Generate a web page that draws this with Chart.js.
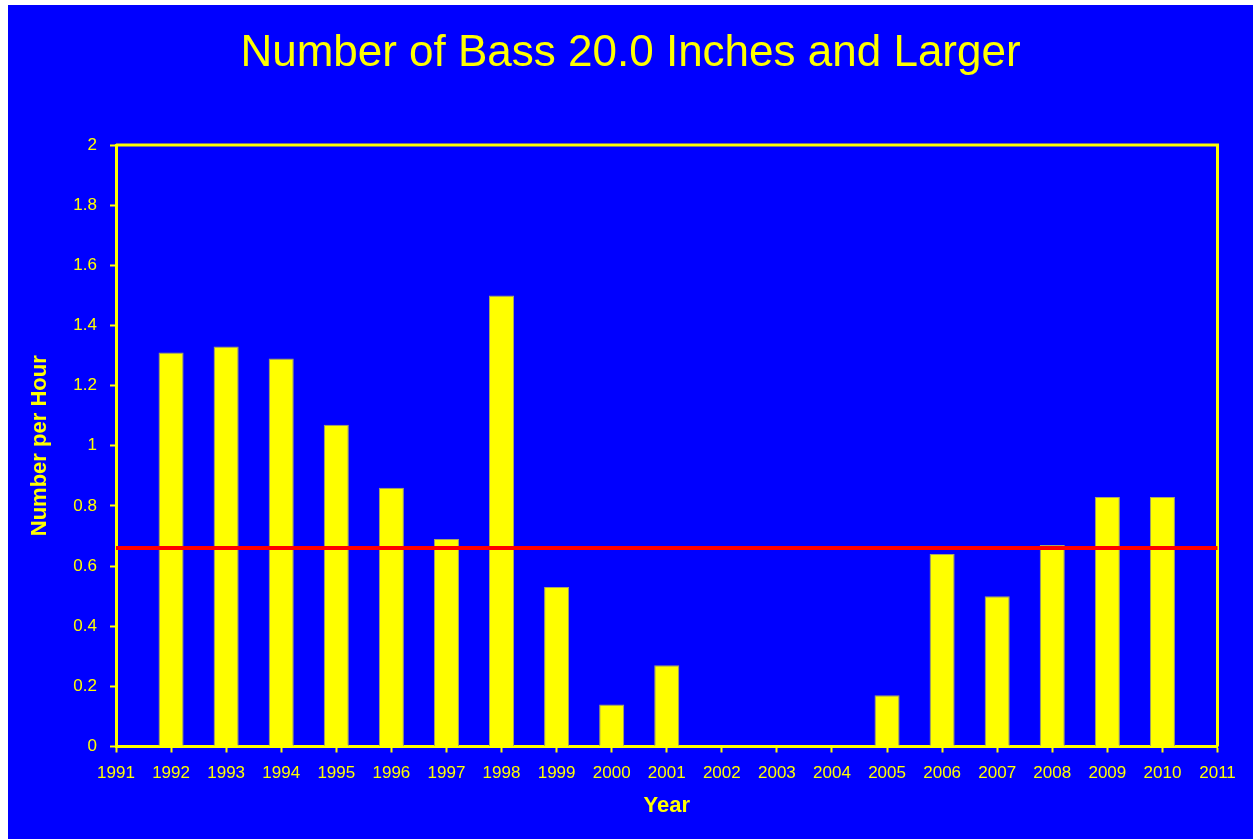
<!DOCTYPE html>
<html>
<head>
<meta charset="utf-8">
<script src="https://cdn.jsdelivr.net/npm/chart.js@4/dist/chart.umd.min.js"></script>
<style>
  html, body { margin: 0; padding: 0; background: #ffffff; }
  #wrap { position: absolute; left: 8px; top: 5px; width: 1245px; height: 834px; background: #0000ff; }
  canvas { display: block; }
</style>
</head>
<body>
<div id="wrap"><canvas id="c" width="1245" height="834"></canvas></div>
<script>
const titleText = 'Number of Bass 20.0 Inches and Larger';
const yAxisTitle = 'Number per Hour';
const xAxisTitle = 'Year';
const years = ['1991','1992','1993','1994','1995','1996','1997','1998','1999','2000','2001',
               '2002','2003','2004','2005','2006','2007','2008','2009','2010','2011'];
const bassPerHour = [null, 1.31, 1.33, 1.29, 1.07, 0.86, 0.69, 1.50, 0.53, 0.14, 0.27,
                     0, 0, 0, 0.17, 0.64, 0.50, 0.67, 0.83, 0.83, null];
const averageValue = 0.66;
const yTickLabels = ['0','0.2','0.4','0.6','0.8','1','1.2','1.4','1.6','1.8','2'];

const averageLine = years.map(() => averageValue);

const YELLOW = '#ffff00';
const FONT = '"Liberation Sans", Arial, sans-serif';

const framePlugin = {
  id: 'frame',
  beforeDatasetsDraw(chart) {
    const a = chart.chartArea, ctx = chart.ctx;
    ctx.save();
    ctx.strokeStyle = YELLOW;
    ctx.lineWidth = 3;
    ctx.beginPath();
    ctx.moveTo(a.left, a.top);
    ctx.lineTo(a.right, a.top);
    ctx.lineTo(a.right, a.bottom);
    ctx.stroke();
    ctx.restore();
  }
};

new Chart(document.getElementById('c'), {
  type: 'bar',
  data: {
    labels: years,
    datasets: [
      {
        type: 'line',
        label: 'Average',
        data: averageLine,
        borderColor: '#ff0000',
        borderWidth: 4,
        pointRadius: 0,
        fill: false,
        order: 0
      },
      {
        type: 'bar',
        label: 'Number per Hour',
        data: bassPerHour,
        backgroundColor: YELLOW,
        borderColor: '#a4a468',
        borderWidth: 1,
        borderSkipped: 'bottom',
        categoryPercentage: 1,
        barPercentage: 0.455,
        order: 1
      }
    ]
  },
  options: {
    responsive: false,
    animation: false,
    events: [],
    layout: { padding: 0 },
    plugins: {
      legend: { display: false },
      tooltip: { enabled: false },
      title: {
        display: true,
        text: titleText,
        color: YELLOW,
        font: { family: FONT, size: 44, weight: 'normal', lineHeight: 1.2 },
        padding: { top: 22.6, bottom: 64.6 }
      }
    },
    scales: {
      x: {
        type: 'category',
        offset: false,
        afterFit(scale) { scale.height = 92.5; },
        grid: { offset: false, drawOnChartArea: false, drawTicks: true, tickLength: 6, tickWidth: 2, color: YELLOW, tickColor: YELLOW },
        border: { display: true, color: YELLOW, width: 3 },
        ticks: { color: YELLOW, font: { family: FONT, size: 17 }, padding: 11, maxRotation: 0, autoSkip: false },
        title: {
          display: true, text: xAxisTitle, color: YELLOW,
          font: { family: FONT, size: 22, weight: 'bold', lineHeight: 1.2 },
          padding: { top: 0, bottom: 19.8 }
        }
      },
      y: {
        min: 0, max: 2,
        afterFit(scale) { scale.width = 108; },
        grid: { drawOnChartArea: false, drawTicks: true, tickLength: 6, tickWidth: 2, color: YELLOW, tickColor: YELLOW },
        border: { display: true, color: YELLOW, width: 3 },
        ticks: {
          stepSize: 0.2, color: YELLOW, font: { family: FONT, size: 17 }, padding: 13,
          callback: (v, i) => yTickLabels[i]
        },
        title: {
          display: true, text: yAxisTitle, color: YELLOW,
          font: { family: FONT, size: 22, weight: 'bold', lineHeight: 1.2 },
          padding: { top: 18.3, bottom: 0 }
        }
      },
      spacer: {
        type: 'linear',
        position: 'right',
        display: true,
        afterFit(scale) { scale.width = 35.5; },
        grid: { display: false },
        border: { display: false },
        ticks: { display: false }
      }
    }
  },
  plugins: [framePlugin]
});
</script>
</body>
</html>
